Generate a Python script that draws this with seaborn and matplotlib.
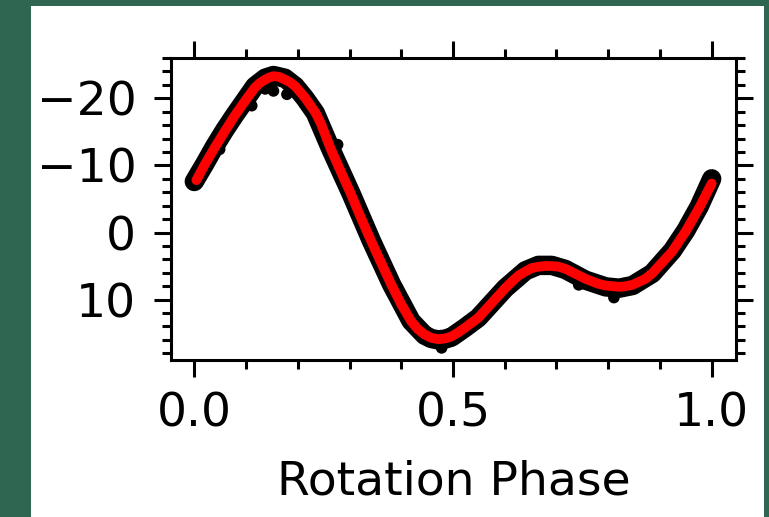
import matplotlib
matplotlib.use('Agg')
import matplotlib.pyplot as plt
import seaborn as sns
import pandas as pd
from matplotlib.ticker import MultipleLocator
from matplotlib.patches import Rectangle

# model curve (red)
fit_phase = [0.004, 0.020, 0.039, 0.059, 0.078, 0.098, 0.117, 0.127, 0.137, 0.145,
             0.153, 0.164, 0.175, 0.185, 0.195, 0.214, 0.234, 0.245, 0.264, 0.283,
             0.303, 0.322, 0.342, 0.361, 0.381, 0.400, 0.419, 0.432, 0.445, 0.458,
             0.471, 0.484, 0.497, 0.510, 0.523, 0.549, 0.575, 0.601, 0.614, 0.627,
             0.640, 0.652, 0.665, 0.678, 0.691, 0.704, 0.717, 0.730, 0.756, 0.779,
             0.795, 0.808, 0.821, 0.834, 0.847, 0.872, 0.885, 0.898, 0.924, 0.950,
             0.976, 1.000]
fit_mag = [-7.8, -10.1, -12.6, -15.1, -17.4, -19.6, -21.6, -22.3, -22.8, -23.1,
           -23.3, -23.2, -22.8, -22.4, -21.8, -20.1, -17.9, -16.2, -12.4, -9.1,
           -5.7, -2.2, 1.3, 4.5, 7.8, 10.7, 13.2, 14.4, 15.2, 15.7,
           15.9, 15.8, 15.5, 14.9, 14.2, 12.7, 10.5, 8.3, 7.3, 6.4,
           5.8, 5.3, 5.1, 5.0, 5.0, 5.1, 5.4, 5.9, 6.9, 7.6,
           7.9, 8.0, 8.1, 8.0, 7.8, 6.9, 6.1, 5.0, 2.8, -0.2,
           -3.7, -7.3]

# observed photometry (black band + a few stray points)
obs_phase = [0.000, 0.020, 0.039, 0.059, 0.078, 0.098, 0.117, 0.137, 0.153, 0.175,
             0.195, 0.214, 0.234, 0.264, 0.303, 0.342, 0.381, 0.419, 0.445, 0.458,
             0.471, 0.484, 0.497, 0.523, 0.549, 0.601, 0.640, 0.665, 0.691, 0.717,
             0.756, 0.795, 0.821, 0.847, 0.885, 0.924, 0.950, 0.976, 1.000]
obs_mag = [-7.6, -10.2, -12.8, -15.3, -17.5, -19.7, -21.8, -23.0, -23.4, -23.0,
           -21.8, -20.0, -17.8, -12.4, -5.8, 1.2, 7.7, 13.2, 15.3, 15.8,
           16.0, 15.9, 15.6, 14.2, 12.7, 8.3, 5.7, 4.9, 4.9, 5.5,
           7.1, 8.1, 8.3, 7.9, 6.1, 2.7, -0.3, -3.9, -8.0]
out_phase = [0.111, 0.153, 0.179, 0.049, 0.277, 0.478, 0.743, 0.811, 0.137]
out_mag = [-18.9, -21.1, -20.6, -12.4, -13.1, 17.2, 7.8, 9.7, -21.4]

fit = pd.DataFrame({'phase': fit_phase, 'mag': fit_mag})
obs = pd.DataFrame({'phase': obs_phase, 'mag': obs_mag})
stray = pd.DataFrame({'phase': out_phase, 'mag': out_mag})

sns.set_style('ticks')
plt.rcParams['font.family'] = ['DejaVu Sans']
plt.rcParams['font.size'] = 34
plt.rcParams['text.color'] = 'black'
plt.rcParams['axes.labelcolor'] = 'black'

fig = plt.figure(figsize=(7.69, 5.17), dpi=100, facecolor='#2f6652')
fig.patches.append(Rectangle((31 / 769, 0), 733 / 769, 511 / 517, transform=fig.transFigure,
                             facecolor='white', edgecolor='none', zorder=-10))
ax = fig.add_axes([0.2224, 0.3037, 0.7347, 0.584])
ax.set_zorder(5)

sns.lineplot(data=obs, x='phase', y='mag', color='black', lw=14, sort=False,
             solid_capstyle='round', solid_joinstyle='round', ax=ax)
sns.scatterplot(data=stray, x='phase', y='mag', color='black', s=70, edgecolor='none', ax=ax)
sns.lineplot(data=fit, x='phase', y='mag', color='red', lw=7, sort=False,
             solid_capstyle='round', solid_joinstyle='round', ax=ax)

ax.set_xlim(-0.045, 1.047)
ax.set_ylim(19, -26)
ax.xaxis.set_major_locator(MultipleLocator(0.5))
ax.xaxis.set_minor_locator(MultipleLocator(0.1))
ax.yaxis.set_major_locator(MultipleLocator(10))
ax.yaxis.set_minor_locator(MultipleLocator(2))
ax.tick_params(which='both', direction='out', top=True, right=True, width=2.2, colors='black')
ax.tick_params(which='major', length=12)
ax.tick_params(which='minor', length=6.5)
ax.tick_params(axis='y', which='major', pad=13, labelsize=34)
ax.tick_params(axis='x', which='major', pad=11, labelsize=34)
for sp in ax.spines.values():
    sp.set_linewidth(2.2)
    sp.set_color('black')
ax.set_xlabel('Rotation Phase', fontsize=34, labelpad=16, color='black')
ax.set_ylabel('')

fig.savefig('out.png', dpi=100, facecolor=fig.get_facecolor())
